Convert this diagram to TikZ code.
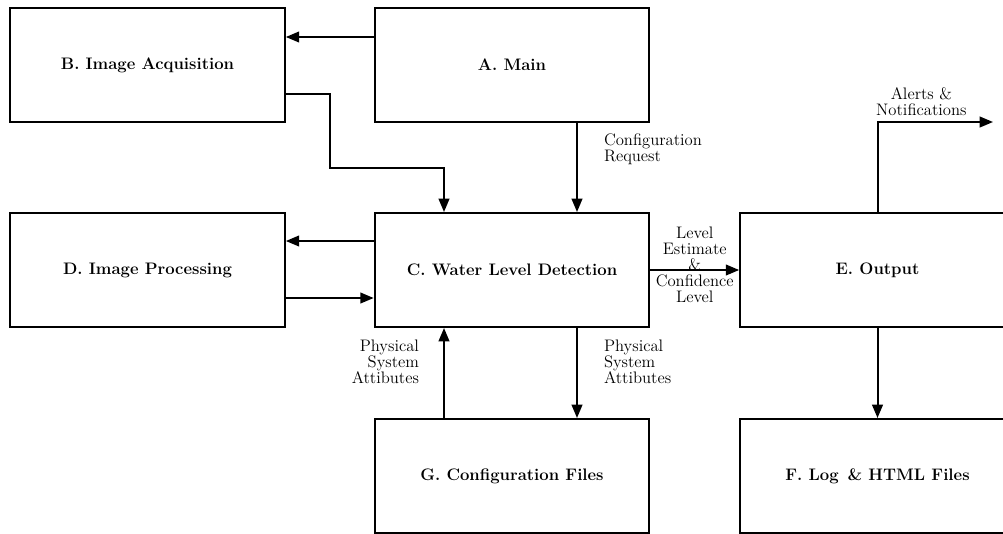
\documentclass[tikz,border=0pt]{standalone}
\usetikzlibrary{arrows.meta}
\tikzstyle{blk}=[draw, line width=1.5pt, minimum width=206pt, minimum height=85.5pt, inner sep=0pt, font=\fontsize{12.5}{14}\selectfont\bfseries]
\tikzstyle{flow}=[line width=1.5pt, -{Triangle[length=10pt,width=8pt]}]
\tikzstyle{lbl}=[font=\fontsize{12.5}{12}\selectfont, inner sep=0pt]

\begin{document}
\begin{tikzpicture}[x=0.75pt, y=-0.75pt]
\clip (0,0) rectangle (1003,533);

\node[blk] (B) at (147.5,65) {B. Image Acquisition};
\node[blk] (A) at (512,65) {A. Main};
\node[blk] (D) at (147.5,270) {D. Image Processing};
\node[blk] (C) at (512,270) {C. Water Level Detection};
\node[blk] (E) at (877.5,270) {E. Output};
\node[blk] (G) at (512,476) {G. Configuration Files};
\node[blk] (F) at (877.5,476) {F. Log \,\& HTML Files};
\coordinate (alert) at (993,122);

\draw[flow] ([yshift=21pt]A.west) -- ([yshift=21pt]B.east);
\draw[flow] ([yshift=-21.75pt]B.east) -| (330,168) -| ([xshift=-51pt]C.north);
\draw[flow] ([xshift=48.75pt]A.south) -- ([xshift=48.75pt]C.north)
  node[lbl, pos=0.29, anchor=west, xshift=19.5pt, align=left] {Configuration\\Request};

\draw[flow] ([yshift=21.75pt]C.west) -- ([yshift=21.75pt]D.east);
\draw[flow] ([yshift=-21pt]D.east) -- ([yshift=-21pt]C.west);
\draw[flow] (C.east) -- (E.west)
  node[lbl, midway, yshift=4pt, align=center] {Level\\Estimate\\\&\\Confidence\\Level};

\draw[flow] ([xshift=-51pt]G.north) -- ([xshift=-51pt]C.south)
  node[lbl, pos=0.62, anchor=east, xshift=-18pt, align=right] {Physical\\System\\Attibutes};
\draw[flow] ([xshift=48.75pt]C.south) -- ([xshift=48.75pt]G.north)
  node[lbl, pos=0.38, anchor=west, xshift=19.5pt, align=left] {Physical\\System\\Attibutes};

\draw[flow] (E.north) |- (alert)
  node[lbl, pos=0.69, above, yshift=4pt, align=center] {Alerts \&\\Notifications};
\draw[flow] (E.south) -- (F.north);

\end{tikzpicture}
\end{document}
